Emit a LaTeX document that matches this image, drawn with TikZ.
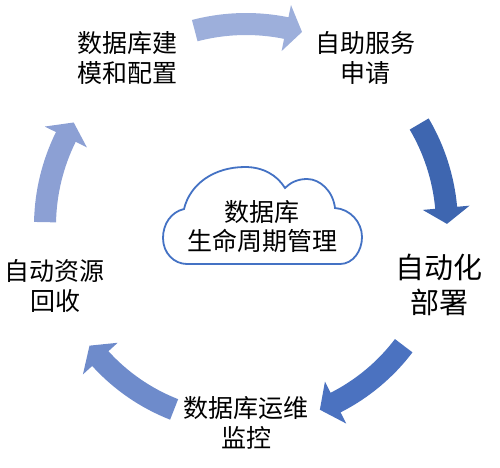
\documentclass[tikz,border=0pt]{standalone}
\usepackage{fontspec}
\setmainfont{Noto Sans CJK SC}
\definecolor{aone}{HTML}{9DAFDB}
\definecolor{atwo}{HTML}{3E66B0}
\definecolor{athree}{HTML}{4B72C0}
\definecolor{afour}{HTML}{6E8BCB}
\definecolor{afive}{HTML}{8CA0D4}
\definecolor{cloudblue}{HTML}{4472C4}
\newcommand{\blockarc}[5]{%
  \fill[#1] (#2:{#5+11}) arc[start angle=#2, end angle=#3, radius={#5+11}]
    -- (#3:{#5+23.5}) -- (#4:#5) -- (#3:{#5-23.5}) -- (#3:{#5-11})
    arc[start angle=#3, end angle=#2, radius={#5-11}] -- cycle;}
\begin{document}
\begin{tikzpicture}[x=1pt,y=-1pt,
  lbl/.style={align=center, inner sep=0pt, font=\fontsize{25}{30}\selectfont},
  biglbl/.style={align=center, inner sep=0pt, font=\fontsize{29}{35}\selectfont},
  cloudline/.style={draw=cloudblue, line width=1.8pt, fill=white}]
\path[use as bounding box] (0,0) rectangle (500,467);
% cycle arrows
\begin{scope}[shift={(246,226)}]
  \blockarc{aone}{-104.7}{-78.5}{-73.9}{202}
  \blockarc{atwo}{-30.5}{-5.2}{-0.6}{201}
  \blockarc{athree}{37.2}{63.1}{68.1}{198}
  \blockarc{afour}{111.4}{137.7}{142.6}{197}
  \blockarc{afive}{181.1}{206.3}{211}{201}
\end{scope}
% cloud
\path[cloudline] (187,264) -- (340,264)
  .. controls (353,264) and (362,251) .. (362,237)
  .. controls (362,222) and (350,209) .. (335,208)
  .. controls (333,191) and (320,179) .. (307,179)
  .. controls (297,179) and (290,183) .. (285,188)
  .. controls (277,175) and (263,167) .. (245,167)
  .. controls (214,167) and (190,184) .. (184,209)
  .. controls (171,212) and (163,224) .. (163,238)
  .. controls (163,253) and (174,264) .. (187,264) -- cycle;
\node[lbl, font=\fontsize{25}{29}\selectfont] (center) at (262,226.5) {数据库\\生命周期管理};
% stage labels
\node[lbl] (model) at (127.5,58) {数据库建\\模和配置};
\node[lbl] (self) at (365,58) {自助服务\\申请};
\node[biglbl] (deploy) at (439,284.5) {自动化\\部署};
\node[lbl] (monitor) at (246,422.5) {数据库运维\\监控};
\node[lbl] (reclaim) at (55,286) {自动资源\\回收};
\end{tikzpicture}
\end{document}
